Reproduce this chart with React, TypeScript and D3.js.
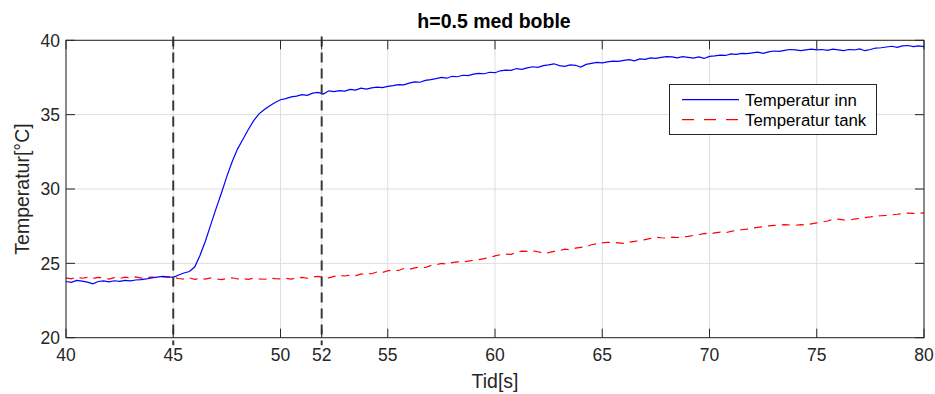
import React from 'react';
import * as d3 from 'd3';

// Chart text
const title = 'h=0.5 med boble';
const xLabel = 'Tid[s]';
const yLabel = 'Temperatur[°C]';
const seriesNames = ['Temperatur inn', 'Temperatur tank'];

// Sampling of the logged series (seconds)
const timeStart = 40;
const timeStep = 0.25;

// Axis ticks
const xTicks = [40, 45, 50, 51.92, 55, 60, 65, 70, 75, 80];
const yTicks = [20, 25, 30, 35, 40];

// Event markers (seconds)
const markerTimes = [45, 51.92];

// Inlet temperature, °C
const tempInn = [
  23.78, 23.72, 23.85, 23.8, 23.74, 23.62, 23.78, 23.82, 23.76, 23.83, 23.79, 23.86, 23.82, 23.88, 23.91, 23.95, 24.02, 24.08, 24.12, 24.1,
  24.06, 24.22, 24.35, 24.45, 24.75, 25.55, 26.5, 27.6, 28.7, 29.75, 30.85, 31.85, 32.7, 33.35, 34.0, 34.6, 35.05, 35.35, 35.6, 35.82,
  36.0, 36.08, 36.2, 36.25, 36.35, 36.3, 36.45, 36.5, 36.38, 36.6, 36.55, 36.62, 36.58, 36.7, 36.65, 36.78, 36.72, 36.8, 36.85, 36.82,
  36.9, 36.95, 37.02, 37.0, 37.12, 37.2, 37.18, 37.3, 37.35, 37.42, 37.5, 37.45, 37.58, 37.55, 37.65, 37.62, 37.72, 37.78, 37.75, 37.85,
  37.82, 37.95, 38.0, 37.98, 38.1, 38.05, 38.15, 38.22, 38.18, 38.3, 38.35, 38.42, 38.3, 38.25, 38.35, 38.32, 38.2, 38.38, 38.45, 38.52,
  38.48, 38.55, 38.6, 38.58, 38.65, 38.7, 38.62, 38.75, 38.72, 38.82, 38.78, 38.85, 38.9, 38.88, 38.82, 38.9, 38.85, 38.8, 38.88, 38.78,
  38.92, 38.95, 39.0, 38.98, 39.08, 39.05, 39.12, 39.1, 39.15, 39.2, 39.12, 39.22, 39.28, 39.25, 39.32, 39.38, 39.35, 39.3, 39.36, 39.4,
  39.35, 39.38, 39.32, 39.4, 39.36, 39.3, 39.38, 39.35, 39.42, 39.3, 39.38, 39.48, 39.5, 39.55, 39.6, 39.52, 39.62, 39.65, 39.58, 39.62,
  39.57,
];

// Tank temperature, °C
const tempTank = [
  24.02, 23.96, 24.08, 24.0, 24.05, 23.98, 24.06, 24.02, 23.94, 24.04, 23.98, 24.07, 24.03, 24.09, 24.01, 24.05, 24.08, 24.03, 24.1, 24.06,
  24.08, 23.98, 23.94, 24.02, 23.92, 23.99, 23.94, 24.02, 23.96, 23.9, 23.98, 24.03, 23.95, 23.98, 23.92, 24.0, 23.96, 23.93, 24.01, 23.97,
  23.95, 24.0, 23.94, 24.02, 24.05, 24.0, 24.08, 24.12, 24.06, 24.02, 24.12, 24.18, 24.15, 24.22, 24.18, 24.28, 24.32, 24.3, 24.42, 24.38,
  24.5, 24.55, 24.52, 24.65, 24.6, 24.7, 24.75, 24.72, 24.85, 24.9, 25.0, 24.95, 25.05, 25.1, 25.08, 25.15, 25.2, 25.25, 25.32, 25.38,
  25.5, 25.58, 25.62, 25.6, 25.75, 25.82, 25.8, 25.85, 25.78, 25.68, 25.72, 25.8, 25.85, 25.95, 25.92, 26.02, 26.08, 26.12, 26.25, 26.32,
  26.38, 26.42, 26.4, 26.38, 26.34, 26.42, 26.48, 26.52, 26.6, 26.68, 26.75, 26.72, 26.7, 26.76, 26.74, 26.78, 26.82, 26.88, 26.92, 27.02,
  26.98, 27.05, 27.1, 27.06, 27.15, 27.22, 27.26, 27.3, 27.38, 27.42, 27.46, 27.52, 27.55, 27.58, 27.6, 27.58, 27.56, 27.6, 27.58, 27.66,
  27.72, 27.78, 27.85, 27.95, 27.98, 27.92, 27.9, 27.98, 28.02, 28.08, 28.12, 28.18, 28.2, 28.22, 28.26, 28.3, 28.35, 28.38, 28.36, 28.4,
  28.38,
];

const W = 935;
const H = 394;
const plot = { left: 66, right: 924, top: 40.3, bottom: 337.7 };
const font = '"Liberation Sans", Arial, Helvetica, sans-serif';
const axisColor = '#262626';
const gridColor = '#dedede';
const tickLen = 9;

export default function App() {
  const x = d3.scaleLinear().domain([40, 80]).range([plot.left, plot.right]);
  const y = d3.scaleLinear().domain([20, 40]).range([plot.bottom, plot.top]);
  const fmt = d3.format('.0f');

  const toPoints = (vals: number[]) => vals.map((v, i) => [timeStart + i * timeStep, v] as [number, number]);
  const line = d3
    .line<[number, number]>()
    .x((d) => x(d[0]))
    .y((d) => y(d[1]));

  const innPath = line(toPoints(tempInn)) || '';
  const tankPath = line(toPoints(tempTank)) || '';

  const legend = { x: 669.5, y: 84.5, w: 207, h: 50 };

  return (
    <svg
      width={W}
      height={H}
      viewBox={`0 0 ${W} ${H}`}
      style={{ position: 'absolute', left: 0, top: 0, background: '#fff' }}
      fontFamily={font}
    >
      <rect x={0} y={0} width={W} height={H} fill="#fff" />

      {/* grid */}
      <g stroke={gridColor} strokeWidth={1}>
        {xTicks.map((t) => (
          <line key={'gx' + t} x1={x(t)} x2={x(t)} y1={plot.top} y2={plot.bottom} />
        ))}
        {yTicks.map((t) => (
          <line key={'gy' + t} x1={plot.left} x2={plot.right} y1={y(t)} y2={y(t)} />
        ))}
      </g>

      {/* data */}
      <path d={tankPath} fill="none" stroke="#ff0000" strokeWidth={1.2} strokeDasharray="8,6" />
      <path d={innPath} fill="none" stroke="#0000ff" strokeWidth={1.2} />

      {/* event markers */}
      <g stroke="#3a3a3a" strokeWidth={2} strokeDasharray="10,6">
        {markerTimes.map((t) => (
          <line key={'m' + t} x1={x(t)} x2={x(t)} y1={y(40.25)} y2={y(19.5)} />
        ))}
      </g>

      {/* frame and ticks */}
      <rect
        x={plot.left}
        y={plot.top}
        width={plot.right - plot.left}
        height={plot.bottom - plot.top}
        fill="none"
        stroke={axisColor}
        strokeWidth={1}
      />
      <g stroke={axisColor} strokeWidth={1}>
        {xTicks.map((t) => (
          <g key={'tx' + t}>
            <line x1={x(t)} x2={x(t)} y1={plot.bottom} y2={plot.bottom - tickLen} />
            <line x1={x(t)} x2={x(t)} y1={plot.top} y2={plot.top + tickLen} />
          </g>
        ))}
        {yTicks.map((t) => (
          <g key={'ty' + t}>
            <line x1={plot.left} x2={plot.left + tickLen} y1={y(t)} y2={y(t)} />
            <line x1={plot.right} x2={plot.right - tickLen} y1={y(t)} y2={y(t)} />
          </g>
        ))}
      </g>

      {/* tick labels */}
      <g fill={axisColor} fontSize={17.5}>
        {xTicks.map((t) => (
          <text key={'lx' + t} x={x(t)} y={360.5} textAnchor="middle">
            {fmt(t)}
          </text>
        ))}
        {yTicks.map((t) => (
          <text key={'ly' + t} x={plot.left - 6} y={y(t) + 6.3} textAnchor="end">
            {fmt(t)}
          </text>
        ))}
      </g>

      {/* axis labels and title */}
      <text x={(plot.left + plot.right) / 2} y={388} textAnchor="middle" fontSize={19.5} fill={axisColor}>
        {xLabel}
      </text>
      <text
        transform={`translate(28.5, ${(plot.top + plot.bottom) / 2}) rotate(-90)`}
        textAnchor="middle"
        fontSize={19.5}
        fill={axisColor}
      >
        {yLabel}
      </text>
      <text
        x={(plot.left + plot.right) / 2 - 1}
        y={28.3}
        textAnchor="middle"
        fontSize={19.5}
        fontWeight="bold"
        fill="#000"
      >
        {title}
      </text>

      {/* legend */}
      <g>
        <rect x={legend.x} y={legend.y} width={legend.w} height={legend.h} fill="#fff" stroke={axisColor} strokeWidth={1} />
        <line x1={682} x2={739} y1={99.7} y2={99.7} stroke="#0000ff" strokeWidth={1.2} />
        <line x1={682} x2={739} y1={119.7} y2={119.7} stroke="#ff0000" strokeWidth={1.2} strokeDasharray="12,10" />
        <text x={745} y={105.5} fontSize={16.8} fill="#000">
          {seriesNames[0]}
        </text>
        <text x={745} y={125.5} fontSize={16.8} fill="#000">
          {seriesNames[1]}
        </text>
      </g>
    </svg>
  );
}
